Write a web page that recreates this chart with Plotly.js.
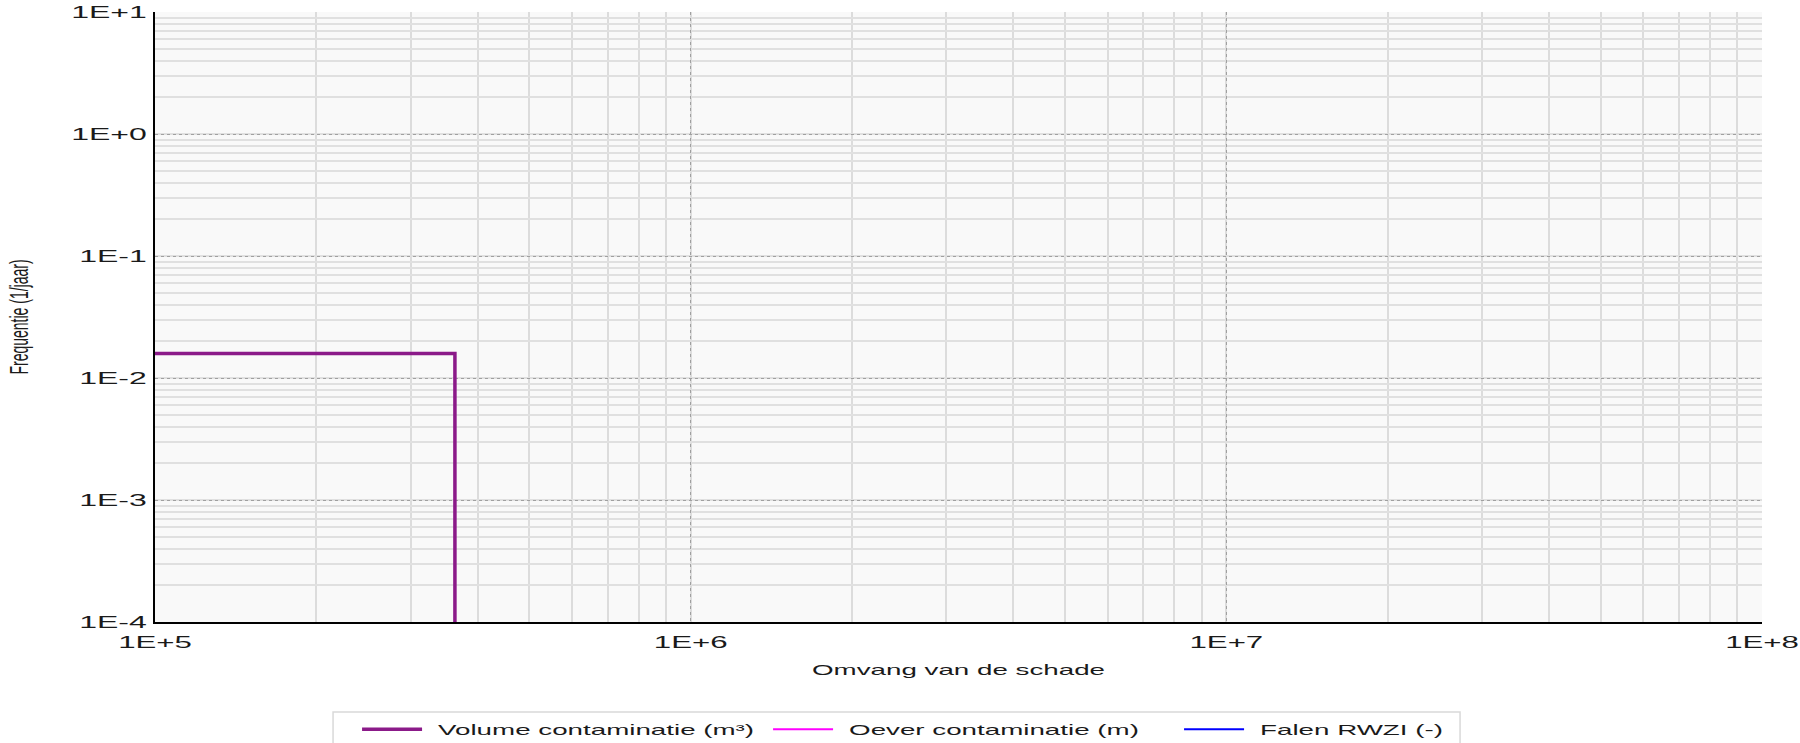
<!DOCTYPE html>
<html>
<head>
<meta charset="utf-8">
<script src="https://cdn.plot.ly/plotly-3.0.1.min.js"></script>
<style>html,body{margin:0;padding:0;background:#fff;}</style>
</head>
<body>
<div id="chart" style="width:1800px;height:743px;"></div>
<script>
// ---- data ----
const seriesNames = ["Volume contaminatie (m³)", "Oever contaminatie (m)", "Falen RWZI (-)"];
const seriesColors = ["#8b1a89", "#ff00ff", "#0000ff"];
const volumeX = [1e5, 3.63e5, 3.63e5];
const volumeY = [0.0159, 0.0159, 1e-4];
const oeverX = [null];
const oeverY = [null];
const falenX = [null];
const falenY = [null];
const xTickVals = [1e5, 1e6, 1e7, 1e8];
const xTickText = ["1E+5", "1E+6", "1E+7", "1E+8"];
const yTickVals = [1e-4, 1e-3, 1e-2, 1e-1, 1e0, 1e1];
const yTickText = ["1E-4", "1E-3", "1E-2", "1E-1", "1E+0", "1E+1"];
const xTitle = "Omvang van de schade";
const yTitle = "Frequentie (1/jaar)";

const FONT = "Liberation Sans, Arial, sans-serif";
const traces = [
  {x: volumeX, y: volumeY, name: seriesNames[0], mode: "lines", line: {color: seriesColors[0], width: 3.5}},
  {x: oeverX, y: oeverY, name: seriesNames[1], mode: "lines", line: {color: seriesColors[1], width: 2}},
  {x: falenX, y: falenY, name: seriesNames[2], mode: "lines", line: {color: seriesColors[2], width: 2}}
];

const layout = {
  width: 1800, height: 743,
  margin: {l: 155, r: 38, t: 12, b: 121, pad: 0},
  paper_bgcolor: "#ffffff",
  plot_bgcolor: "#f9f9f9",
  font: {family: FONT, size: 15, color: "#1a1a1a"},
  showlegend: true,
  hovermode: false,
  xaxis: {
    type: "log", range: [5, 8],
    tickmode: "array", tickvals: xTickVals, ticktext: xTickText,
    tickfont: {size: 16, color: "#1a1a1a"},
    ticks: "", ticklabelstandoff: 5,
    showgrid: true, gridcolor: "#a0a0a0", griddash: "dot", gridwidth: 1,
    minor: {dtick: "D1", showgrid: true, gridcolor: "#dcdcdc", gridwidth: 2.2, griddash: "solid", ticks: ""},
    showline: true, linecolor: "#000000", linewidth: 2,
    zeroline: false,
    title: {text: xTitle, font: {size: 15, color: "#1a1a1a"}, standoff: 14}
  },
  yaxis: {
    type: "log", range: [-4, 1],
    tickmode: "array", tickvals: yTickVals, ticktext: yTickText,
    tickfont: {size: 16, color: "#1a1a1a"},
    ticks: "", ticklabelstandoff: 3,
    showgrid: true, gridcolor: "#a0a0a0", griddash: "dot", gridwidth: 1,
    minor: {dtick: "D1", showgrid: true, gridcolor: "#e0e0e0", gridwidth: 1.6, griddash: "solid", ticks: ""},
    showline: true, linecolor: "#000000", linewidth: 2,
    zeroline: false,
    title: {text: yTitle, font: {size: 14, color: "#1a1a1a"}, standoff: 77}
  },
  legend: {
    orientation: "h",
    xref: "container", yref: "container",
    x: 0.1867, xanchor: "left",
    y: 0.0417, yanchor: "top",
    bgcolor: "rgba(0,0,0,0)", bordercolor: "rgba(0,0,0,0)", borderwidth: 1,
    font: {size: 15, color: "#1a1a1a"},
    itemwidth: 60,
    entrywidth: 316, entrywidthmode: "pixels",
    indentation: 20
  },
  shapes: [{
    type: "rect", xref: "paper", yref: "paper",
    x0: 0.1108, x1: 0.8121, y0: -0.26, y1: -0.1475,
    line: {color: "#d9d9d9", width: 1.5}, fillcolor: "rgba(0,0,0,0)", layer: "above"
  }]
};

function stretch(sel, sx, sy, dx) {
  document.querySelectorAll(sel).forEach(function (t) {
    const x = parseFloat(t.getAttribute("x") || 0);
    const y = parseFloat(t.getAttribute("y") || 0);
    const tr = t.getAttribute("transform") || "";
    t.setAttribute("transform", tr + " translate(" + (x + (dx || 0)) + "," + y + ") scale(" + sx + "," + sy + ") translate(" + (-x) + "," + (-y) + ")");
  });
}

Plotly.newPlot("chart", traces, layout, {displayModeBar: false, responsive: false}).then(function () {
  stretch("#chart .xtick text", 1.95, 1);
  stretch("#chart .ytick text", 2.0, 1);
  stretch("#chart .legendtext", 1.85, 1, 11);
  stretch("#chart .g-xtitle text", 1.85, 1);
  stretch("#chart .g-ytitle text", 1, 1.8);
});
</script>
</body>
</html>
